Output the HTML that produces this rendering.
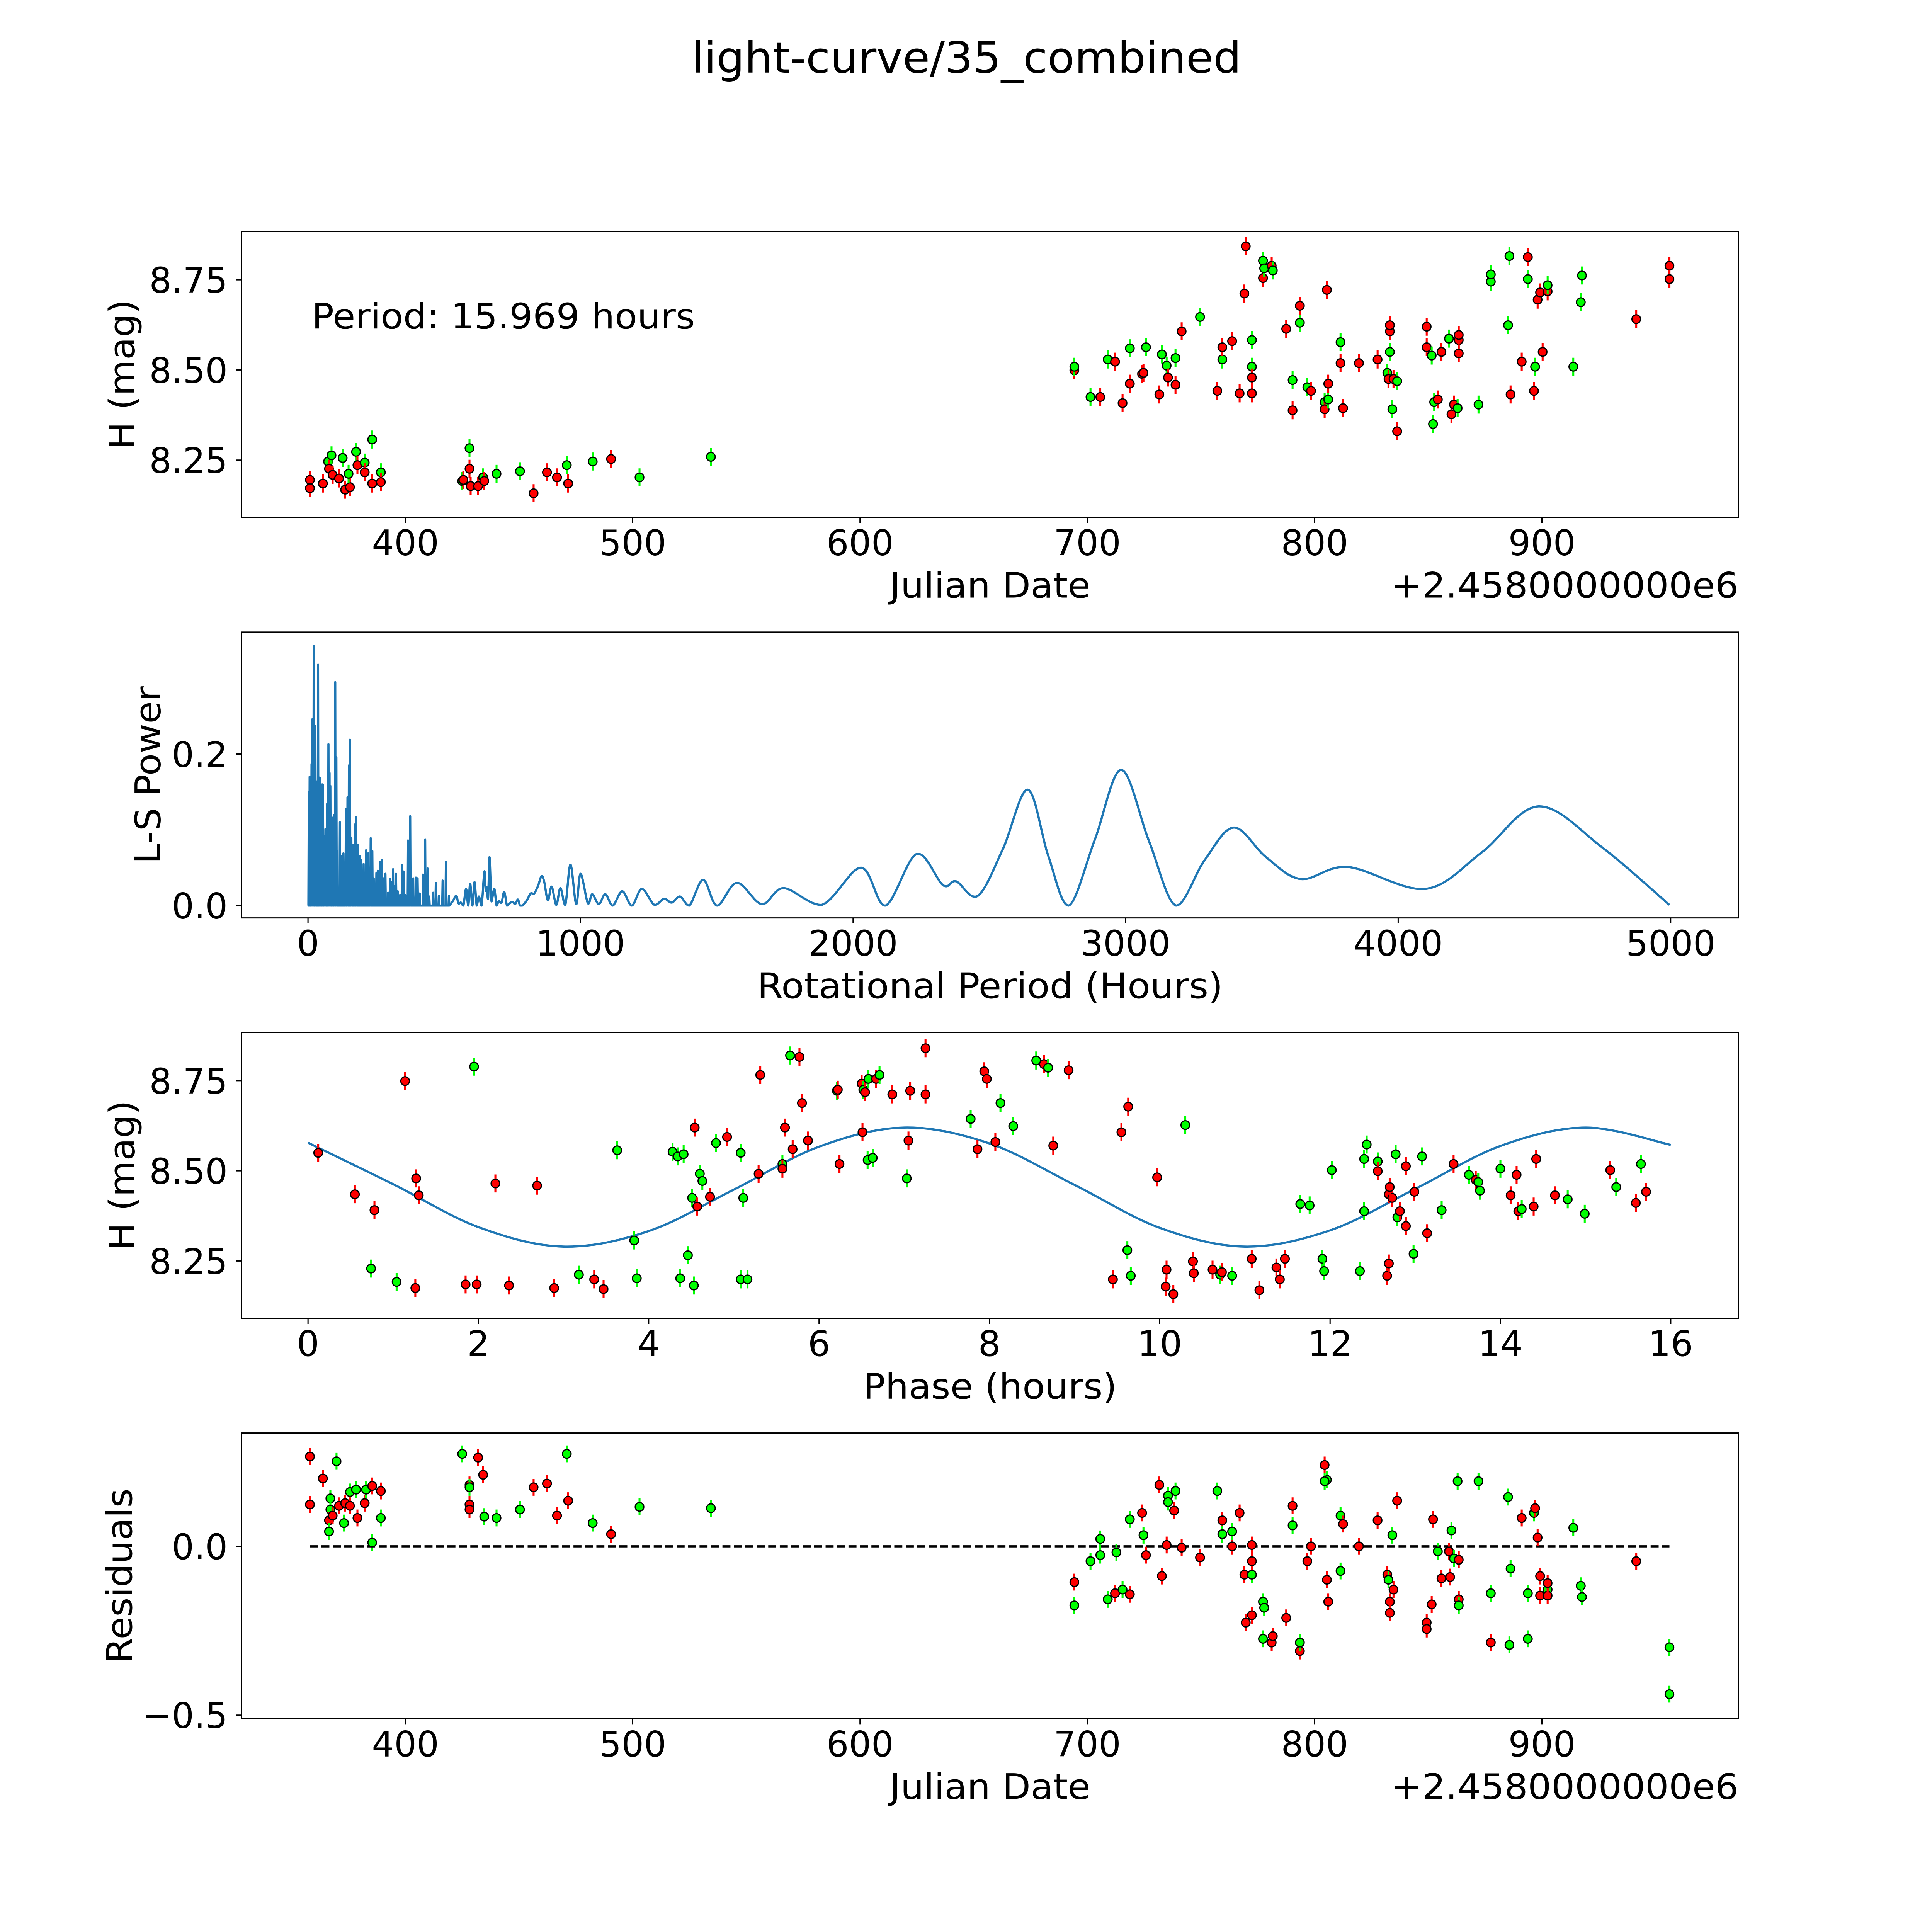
<!DOCTYPE html>
<html><head><meta charset="utf-8"><style>
html,body{margin:0;padding:0;background:#fff;overflow:hidden;width:100vw;height:100vh;}
svg{display:block;position:fixed;left:0;top:0;width:100vw;height:100vh;}
text{font-family:"DejaVu Sans","Liberation Sans",sans-serif;fill:#000;}
</style></head><body>
<svg id="fig" xmlns="http://www.w3.org/2000/svg" viewBox="0 0 1568 1568" preserveAspectRatio="none">
<rect x="0" y="0" width="1568" height="1568" fill="#fff"/>
<text x="784.5" y="58.9" font-size="35" text-anchor="middle" textLength="446" lengthAdjust="spacingAndGlyphs">light-curve/35_combined</text>
</svg>
<script>
// ---------- Panel 1: H magnitude vs Julian Date ----------
const dates1 = [358,358,363.7,366,367.5,366.4,368,372.4,370.8,373.5,375.6,375,378.3,378.9,382.1,382.1,385.4,385.4,389.2,389.2,425,425.5,428.2,428.2,428.7,432,434.2,434.7,440.1,450.4,456.4,462.3,466.7,471,471.6,482.4,490.5,503,534.4,
694.3,694.3,701.4,705.7,709,712.2,715.5,718.7,718.7,724.1,725.8,724.7,731.7,732.8,734.9,735.5,738.8,738.8,741.5,749.6,757.2,759.4,759.4,763.7,767,769.1,769.7,772.4,772.4,772.4,772.4,777.3,777.3,777.8,781.1,781.6,787.5,790.3,790.3,793.5,793.5,796.8,798.4,804.4,804.4,806,805.4,806,811.4,811.4,812.5,819.5,827.7,832,832.5,834.7,834.2,833.1,833.1,833.1,836.3,836.3,849.3,849.3,851.5,852.1,852.6,854.2,855.8,859.1,860.2,861.3,862.9,863.4,863.4,863.4,872.1,877.5,877.5,886.2,885.1,885.7,891.1,893.8,893.8,896.5,897,898.1,899.2,902.5,902.5,900.3,917.1,917.6,913.8,941.5,956.1,956.1];
const mags1 = [8.195,8.172,8.185,8.246,8.263,8.226,8.209,8.256,8.199,8.168,8.175,8.212,8.273,8.236,8.243,8.216,8.307,8.185,8.216,8.189,8.192,8.195,8.283,8.226,8.178,8.178,8.202,8.192,8.212,8.219,8.158,8.216,8.202,8.236,8.185,8.246,8.253,8.202,8.259,
8.499,8.509,8.425,8.425,8.529,8.523,8.408,8.560,8.462,8.489,8.563,8.492,8.432,8.543,8.512,8.479,8.533,8.459,8.607,8.647,8.442,8.529,8.563,8.580,8.435,8.712,8.843,8.583,8.509,8.435,8.479,8.803,8.755,8.782,8.789,8.776,8.614,8.388,8.472,8.631,8.678,8.452,8.442,8.411,8.391,8.418,8.722,8.462,8.577,8.519,8.394,8.519,8.529,8.492,8.475,8.475,8.391,8.550,8.607,8.624,8.330,8.469,8.620,8.563,8.540,8.350,8.411,8.418,8.550,8.587,8.377,8.404,8.394,8.583,8.597,8.546,8.404,8.745,8.765,8.432,8.624,8.816,8.523,8.752,8.813,8.442,8.509,8.695,8.715,8.718,8.735,8.550,8.688,8.762,8.509,8.641,8.789,8.752];
const colors1 = "rrrggrrgrrrggrgrgrgrgrgrrrgrggrrrgrgrgg"+"rggrgrrgrrgrrggrgrrgrgrrrrrggrrgrgrgrrggrgrgrgrrgrrrrgrrggrrrgrrgggrrgrrgrrrgggrggrgrrgrrrgrgggr";

// ---------- Panel 2: Lomb-Scargle periodogram ----------
const spikePeriods = [3,6,13,16,21,27,30,37,43,47,52,55,60,64,70,75,79,82,89,94,97,100,104,107,117,124,130,139,145,150,154,159,166,172,177,184,191,195,204,213,221,230,236,241,251,256,264,271,278,284,294,301,308,312,318,323,329,338,345,351,358,367,375,381,386,396,402,410,422,430,439,445,459,469,480,494,506,517];
const spikePowers = [0.15,0.17,0.187,0.246,0.343,0.237,0.164,0.318,0.169,0.114,0.16,0.159,0.092,0.101,0.134,0.213,0.175,0.158,0.116,0.072,0.12,0.295,0.196,0.072,0.11,0.065,0.069,0.128,0.143,0.185,0.219,0.089,0.08,0.107,0.117,0.08,0.065,0.06,0.055,0.073,0.069,0.089,0.072,0.036,0.043,0.046,0.058,0.06,0.036,0.042,0.017,0.035,0.031,0.048,0.026,0.042,0.019,0.014,0.054,0.045,0.014,0.086,0.118,0.012,0.036,0.037,0.036,0.016,0.041,0.087,0.049,0.012,0.017,0.03,0.013,0.033,0.058,0.013];
const smoothPeriods = [532,544,552,561,570,580,588,595,603,611,619,627,637,647,652,656,661,666,672,676,684,692,700,710,720,730,737,750,760,770,778,786,803,817,830,844,857,867,880,894,911,926,944,963,984,1000,1027,1043,1067,1091,1118,1153,1188,1225,1271,1306,1335,1365,1399,1450,1501,1574,1665,1745,1885,2029,2118,2233,2330,2378,2458,2550,2641,2716,2791,2887,2984,3086,3185,3290,3397,3515,3643,3815,4099,4306,4515,4748,4995];
const smoothPowers = [0.006,0.013,0.003,0.004,0.0,0.022,0.0,0.029,0.0,0.031,0.0,0.012,0.0,0.045,0.02,0.024,0.01,0.064,0.01,0.01,0.022,0.0,0.006,0.004,0.018,0.0,0.002,0.005,0.002,0.008,0.0,0.0,0.007,0.016,0.016,0.026,0.039,0.031,0.007,0.025,0.001,0.023,0.001,0.054,0.002,0.042,0.003,0.015,0.002,0.015,0.0,0.019,0.0,0.022,0.001,0.009,0.004,0.012,0.0,0.034,0.0,0.030,0.002,0.023,0.001,0.050,0.0,0.068,0.027,0.032,0.013,0.075,0.153,0.066,0.0,0.087,0.179,0.085,0.0,0.06,0.103,0.064,0.035,0.051,0.022,0.070,0.131,0.077,0.001];

// ---------- Panel 3: phase-folded light curve ----------
const phases3 = [0.12,0.55,0.78,0.74,1.04,1.14,1.27,1.30,1.26,1.95,1.85,1.98,2.20,2.36,2.69,2.89,3.18,3.36,3.47,3.63,3.83,3.86,4.28,4.34,4.41,4.37,4.54,4.46,4.51,4.53,4.57,4.60,4.63,4.72,4.79,4.92,5.08,5.11,5.08,5.16,5.29,5.31,5.57,5.57,5.60,5.66,5.69,5.77,5.80,5.87,6.21,6.22,6.24,6.51,6.50,6.52,6.54,6.57,6.58,6.63,6.67,6.71,6.86,7.03,7.05,7.07,7.25,7.25,7.78,7.86,7.94,7.97,8.07,8.13,8.28,8.55,8.64,8.69,8.75,8.93,9.45,9.55,9.63,9.62,9.66,9.97,10.08,10.07,10.16,10.30,10.39,10.40,10.62,10.71,10.73,10.85,11.08,11.17,11.37,11.41,11.47,11.65,11.76,11.91,11.93,12.02,12.35,12.40,12.43,12.40,12.56,12.56,12.67,12.69,12.69,12.73,12.70,12.77,12.79,12.82,12.89,12.89,12.98,12.99,13.08,13.14,13.31,13.45,13.63,13.71,13.74,13.76,14.00,14.12,14.19,14.21,14.25,14.39,14.42,14.64,14.79,14.99,15.29,15.36,15.59,15.65,15.71];
const mags3 = [8.550,8.435,8.391,8.229,8.192,8.749,8.479,8.432,8.175,8.789,8.185,8.185,8.465,8.182,8.459,8.175,8.212,8.199,8.172,8.557,8.307,8.202,8.553,8.540,8.546,8.202,8.620,8.266,8.425,8.182,8.401,8.492,8.472,8.428,8.577,8.594,8.550,8.425,8.199,8.199,8.492,8.766,8.519,8.506,8.620,8.820,8.560,8.816,8.688,8.584,8.722,8.725,8.519,8.607,8.742,8.725,8.718,8.530,8.755,8.536,8.755,8.766,8.712,8.479,8.584,8.722,8.840,8.712,8.644,8.560,8.776,8.755,8.580,8.688,8.624,8.806,8.796,8.786,8.570,8.779,8.199,8.607,8.678,8.280,8.209,8.482,8.226,8.179,8.158,8.627,8.249,8.216,8.226,8.212,8.219,8.209,8.256,8.169,8.232,8.199,8.256,8.408,8.404,8.256,8.222,8.502,8.222,8.533,8.573,8.388,8.526,8.499,8.209,8.243,8.435,8.425,8.455,8.546,8.371,8.388,8.513,8.347,8.270,8.442,8.540,8.327,8.391,8.519,8.489,8.475,8.469,8.445,8.506,8.432,8.489,8.388,8.394,8.401,8.533,8.432,8.421,8.381,8.502,8.455,8.411,8.519,8.442];
const colors3 = "rrrggrrrrgrrrrrrgrrgggggggrgggrggrgrggggrrgrrgrrrrgrrrrgrgggrgrgrrrrgrrrrgggrgrrrrrggrrrrgrrrgrgrrrrrggggggggggrrrrrrggrrrgrgrgrgrgggrrrgrrrggrgrgrgggr";
const modelPhases = [0,1,2,3,4,5,6,7,8,9,10,11,12,13,14,15,16];
const modelMags = [8.578,8.463,8.344,8.290,8.333,8.448,8.567,8.620,8.576,8.461,8.342,8.290,8.335,8.450,8.569,8.620,8.572];

// ---------- Panel 4: residuals vs Julian Date ----------
const dates4 = [358,358,363.7,367,367,366.4,366.4,368,369.7,370.8,373,373.5,375.6,375.6,378.3,378.9,382.1,382.7,385.4,385.4,389.2,389.2,425,428.2,428.2,428.2,428.2,432,434.2,434.7,440.1,450.4,456.4,462.3,466.7,471,471.6,482.4,490.5,503,534.4,
694.3,694.3,701.4,705.7,705.7,709,712.2,712.8,715.5,718.7,718.7,724.1,725.8,724.7,731.7,732.8,735.5,738.2,735.5,734.9,738.8,741.5,749.6,757.2,759.4,759.4,763.7,767,763.7,769.1,769.7,772.4,772.4,772.4,772.4,777.3,777.3,777.8,781.1,781.6,787.5,790.3,790.3,793.5,793.5,796.8,798.4,804.4,805.4,804.4,805.4,806,811.4,811.4,812.5,819.5,827.7,832,832.5,833.1,833.1,834.7,834.2,836.3,849.3,849.3,851.5,852.1,855.8,854.2,859.1,859.6,860.2,861.3,862.9,863.4,863.4,863.4,872.1,877.5,877.5,886.2,885.1,885.7,891.1,893.8,893.8,896.5,897,898.1,899.2,899.2,902.5,902.5,902.5,917.1,917.6,913.8,941.5,956.1,956.1];
const res4 = [0.266,0.124,0.201,0.142,0.109,0.077,0.044,0.091,0.252,0.120,0.069,0.128,0.161,0.120,0.168,0.084,0.128,0.168,0.179,0.011,0.084,0.164,0.274,0.182,0.175,0.124,0.109,0.263,0.212,0.088,0.084,0.109,0.175,0.186,0.091,0.274,0.135,0.069,0.036,0.117,0.113,
-0.106,-0.175,-0.044,-0.026,0.022,-0.157,-0.139,-0.018,-0.128,-0.142,0.080,0.099,-0.026,0.033,0.182,-0.088,0.150,0.106,0.131,0.004,0.164,-0.004,-0.033,0.164,0.077,0.036,0.0,0.099,0.044,-0.084,-0.226,-0.204,-0.084,0.004,-0.044,-0.274,-0.164,-0.182,-0.285,-0.266,-0.212,0.120,0.062,-0.310,-0.285,-0.044,0.0,0.241,0.197,0.193,-0.099,-0.164,-0.073,0.091,0.066,0.0,0.077,-0.084,-0.099,-0.164,-0.197,-0.128,0.033,0.135,-0.226,-0.245,-0.172,0.080,-0.095,-0.015,-0.015,-0.091,0.047,-0.036,0.193,-0.040,-0.157,-0.175,0.193,-0.139,-0.285,-0.066,0.146,-0.292,0.084,-0.139,-0.274,0.099,0.113,0.026,-0.088,-0.146,-0.128,-0.146,-0.109,-0.117,-0.150,0.055,-0.044,-0.299,-0.438];
const colors4 = "rrrggrgrgrgrgrgrrgrggrgrgrrrrgggrrrgrgrgg"+"rgggggrggrgrrgrrgrgrgrrgrgrrgrrrgrrgggrrrrgrgrrrggrrggrrrrgrrrgrrrrrrgrrgggrrgggrgggrgggrrrrgrrgggrggrrgr";

const ERR_MAG = 0.025;
const yTicksMag = [8.25,8.5,8.75];
const yTickLabelsMag = ["8.25","8.50","8.75"];
const xTicksJD = [400,500,600,700,800,900];
const xTicksPeriod = [0,1000,2000,3000,4000,5000];
const yTicksPower = [0.0,0.2];
const yTickLabelsPower = ["0.0","0.2"];
const xTicksPhase = [0,2,4,6,8,10,12,14,16];
const yTicksRes = [-0.5,0.0];
const yTickLabelsRes = ["\u22120.5","0.0"];

const NS = "http://www.w3.org/2000/svg";
const svg = document.getElementById('fig');
function mk(tag, parent){ const e = document.createElementNS(NS, tag); (parent||svg).appendChild(e); return e; }
function axis(x0,x1,y0,y1,dx0,dx1,dy0,dy1){
  return {x0,x1,y0,y1,
    sx: v => x0 + (v-dx0)/(dx1-dx0)*(x1-x0),
    sy: v => y1 - (v-dy0)/(dy1-dy0)*(y1-y0)};
}
const A1 = axis(196,1411,188,420,327.9,986.5,8.0908,8.8836);
const A2 = axis(196,1411,513,745,-244,5249,-0.0163,0.3610);
const A3 = axis(196,1411,838,1070,-0.781,16.796,8.0908,8.8836);
const A4 = axis(196,1411,1163,1395,327.9,986.5,-0.511,0.3358);
const FS = 28.6;

function frame(A, name){
  const g = mk('g');
  
  
  return g;
}
function drawBox(A, g, name){
  const r = mk('rect', g);
  
  
  r.setAttribute('x', A.x0); r.setAttribute('y', A.y0);
  r.setAttribute('width', A.x1-A.x0); r.setAttribute('height', A.y1-A.y0);
  r.setAttribute('fill', 'none'); r.setAttribute('stroke', '#000'); r.setAttribute('stroke-width', '0.95');
}
function xTicks(A, g, vals, labels, name){
  vals.forEach((v,i)=>{
    const x = A.sx(v);
    const l = mk('line', g);
    
    
    l.setAttribute('x1', x); l.setAttribute('x2', x); l.setAttribute('y1', A.y1); l.setAttribute('y2', A.y1+4.4);
    l.setAttribute('stroke', '#000'); l.setAttribute('stroke-width', '0.95');
    const t = mk('text', g);
    
    
    t.setAttribute('x', x); t.setAttribute('y', A.y1+30.5);
    t.setAttribute('font-size', FS); t.setAttribute('text-anchor', 'middle');
    t.textContent = labels ? labels[i] : String(v);
  });
}
function yTicks(A, g, vals, labels, name){
  vals.forEach((v,i)=>{
    const y = A.sy(v);
    const l = mk('line', g);
    
    
    l.setAttribute('x1', A.x0-4.4); l.setAttribute('x2', A.x0); l.setAttribute('y1', y); l.setAttribute('y2', y);
    l.setAttribute('stroke', '#000'); l.setAttribute('stroke-width', '0.95');
    const t = mk('text', g);
    
    
    t.setAttribute('x', A.x0-11.2); t.setAttribute('y', y+10.35);
    t.setAttribute('font-size', FS); t.setAttribute('text-anchor', 'end');
    t.textContent = labels[i];
  });
}
function label(g, txt, x, y, rot, anchor, name, len){
  const t = mk('text', g);
  
  
  t.setAttribute('font-size', FS);
  t.setAttribute('text-anchor', anchor);
  if (rot) t.setAttribute('transform', 'translate('+x+','+y+') rotate(-90)');
  else { t.setAttribute('x', x); t.setAttribute('y', y); }
  if (len) { t.setAttribute('textLength', len); t.setAttribute('lengthAdjust', 'spacingAndGlyphs'); }
  t.textContent = txt;
  return t;
}
function points(A, g, xs, ys, cols, errPx, name){
  xs.forEach((xv,i)=>{
    const x = A.sx(xv), y = A.sy(ys[i]);
    const c = cols[i] === 'g' ? '#00ff00' : '#ff0000';
    const b = mk('line', g);
    
    
    b.setAttribute('x1', x); b.setAttribute('x2', x); b.setAttribute('y1', y-errPx); b.setAttribute('y2', y+errPx);
    b.setAttribute('stroke', c); b.setAttribute('stroke-width', '1.6');
    const p = mk('circle', g);
    
    
    p.setAttribute('cx', x); p.setAttribute('cy', y); p.setAttribute('r', '3.5');
    p.setAttribute('fill', c); p.setAttribute('stroke', '#000'); p.setAttribute('stroke-width', '0.95');
  });
}
function smoothPath(pts, yClamp){
  let d = 'M'+pts[0][0].toFixed(2)+','+pts[0][1].toFixed(2);
  for (let i=0;i<pts.length-1;i++){
    const p0 = pts[Math.max(0,i-1)], p1 = pts[i], p2 = pts[i+1], p3 = pts[Math.min(pts.length-1,i+2)];
    let c1x = p1[0]+(p2[0]-p0[0])/6, c1y = p1[1]+(p2[1]-p0[1])/6;
    let c2x = p2[0]-(p3[0]-p1[0])/6, c2y = p2[1]-(p3[1]-p1[1])/6;
    if (yClamp!==undefined){ c1y=Math.min(c1y,yClamp); c2y=Math.min(c2y,yClamp); }
    d += ' C'+c1x.toFixed(2)+','+c1y.toFixed(2)+' '+c2x.toFixed(2)+','+c2y.toFixed(2)+' '+p2[0].toFixed(2)+','+p2[1].toFixed(2);
  }
  return d;
}
const errPxMag = ERR_MAG/(8.8836-8.0908)*232;

// Panel 1
const g1 = frame(A1, 'magnitude-vs-date-panel');
points(A1, g1, dates1, mags1, colors1, errPxMag, 'magnitude');
drawBox(A1, g1, 'magnitude-axes-frame');
xTicks(A1, g1, xTicksJD, null, 'date-x-axis');
yTicks(A1, g1, yTicksMag, yTickLabelsMag, 'magnitude-y-axis');
label(g1, 'Julian Date', 803.5, 485, false, 'middle', 'date-x-axis-title', 163);
label(g1, '+2.4580000000e6', 1411, 485, false, 'end', 'date-offset-label', 282);
label(g1, 'H (mag)', 109, 304, true, 'middle', 'magnitude-y-axis-title', 122);
label(g1, 'Period: 15.969 hours', 253, 266.6, false, 'start', 'period-annotation', 311);

// Panel 2
const g2 = frame(A2, 'periodogram-panel');
let y0p = A2.sy(0);
let dsp = 'M'+A2.sx(0).toFixed(2)+','+y0p.toFixed(2);
spikePeriods.forEach((p,i)=>{
  const half = 1.4;
  dsp += ' L'+A2.sx(p-half).toFixed(2)+','+y0p.toFixed(2)+' L'+A2.sx(p).toFixed(2)+','+A2.sy(spikePowers[i]).toFixed(2)+' L'+A2.sx(p+half).toFixed(2)+','+y0p.toFixed(2);
});
dsp += ' L'+A2.sx(smoothPeriods[0]).toFixed(2)+','+A2.sy(smoothPowers[0]).toFixed(2);
const spk = mk('path', g2);


spk.setAttribute('d', dsp); spk.setAttribute('fill', 'none'); spk.setAttribute('stroke', '#1f77b4');
spk.setAttribute('stroke-width', '1.77'); spk.setAttribute('stroke-linejoin', 'round');
const spts = smoothPeriods.map((p,i)=>[A2.sx(p), A2.sy(smoothPowers[i])]);
const sm = mk('path', g2);


sm.setAttribute('d', smoothPath(spts, y0p)); sm.setAttribute('fill', 'none'); sm.setAttribute('stroke', '#1f77b4');
sm.setAttribute('stroke-width', '1.77'); sm.setAttribute('stroke-linejoin', 'round');
drawBox(A2, g2, 'periodogram-axes-frame');
xTicks(A2, g2, xTicksPeriod, null, 'period-x-axis');
yTicks(A2, g2, yTicksPower, yTickLabelsPower, 'power-y-axis');
label(g2, 'Rotational Period (Hours)', 803.5, 810, false, 'middle', 'period-x-axis-title', 378);
label(g2, 'L-S Power', 130, 629, true, 'middle', 'power-y-axis-title', 144);

// Panel 3
const g3 = frame(A3, 'phase-folded-panel');
const mpts = modelPhases.map((p,i)=>[A3.sx(p), A3.sy(modelMags[i])]);
const md = mk('path', g3);


md.setAttribute('d', smoothPath(mpts)); md.setAttribute('fill', 'none'); md.setAttribute('stroke', '#1f77b4'); md.setAttribute('stroke-width', '1.77');
points(A3, g3, phases3, mags3, colors3, errPxMag, 'phase');
drawBox(A3, g3, 'phase-axes-frame');
xTicks(A3, g3, xTicksPhase, null, 'phase-x-axis');
yTicks(A3, g3, yTicksMag, yTickLabelsMag, 'phase-magnitude-y-axis');
label(g3, 'Phase (hours)', 803.5, 1135, false, 'middle', 'phase-x-axis-title', 206);
label(g3, 'H (mag)', 109, 954, true, 'middle', 'phase-magnitude-y-axis-title', 122);

// Panel 4
const g4 = frame(A4, 'residuals-panel');
const zl = mk('line', g4);


zl.setAttribute('x1', A4.sx(358)); zl.setAttribute('x2', A4.sx(956.1));
zl.setAttribute('y1', A4.sy(0)); zl.setAttribute('y2', A4.sy(0));
zl.setAttribute('stroke', '#000'); zl.setAttribute('stroke-width', '1.77'); zl.setAttribute('stroke-dasharray', '6.5,2.8');
points(A4, g4, dates4, res4, colors4, ERR_MAG/(0.3358+0.511)*232, 'residual');
drawBox(A4, g4, 'residuals-axes-frame');
xTicks(A4, g4, xTicksJD, null, 'residual-date-x-axis');
yTicks(A4, g4, yTicksRes, yTickLabelsRes, 'residual-y-axis');
label(g4, 'Julian Date', 803.5, 1460, false, 'middle', 'residual-date-x-axis-title', 163);
label(g4, '+2.4580000000e6', 1411, 1460, false, 'end', 'residual-date-offset-label', 282);
label(g4, 'Residuals', 107, 1279, true, 'middle', 'residual-y-axis-title', 142);
</script>
</body></html>
